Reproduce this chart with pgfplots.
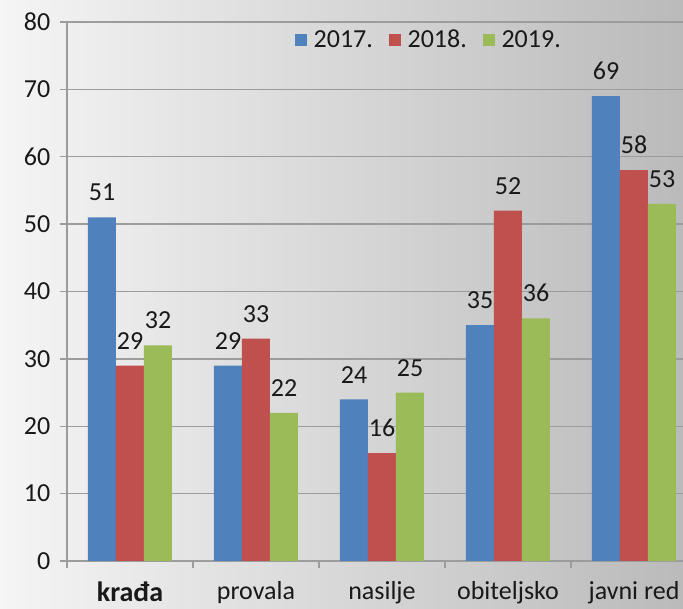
\documentclass[border=0pt]{standalone}
\usepackage{fontspec}
\setmainfont{Carlito}
\usepackage{pgfplots}
\pgfplotsset{compat=1.18}

\definecolor{c17}{HTML}{4F81BD}
\definecolor{c18}{HTML}{C0504D}
\definecolor{c19}{HTML}{9BBB59}
\definecolor{gridc}{HTML}{9C9C9C}

\begin{document}
\begin{tikzpicture}
% picture is 683 x 609 px, 1px = 0.75pt
\useasboundingbox (0,0) rectangle (512.25pt,456.75pt);
\clip (0,0) rectangle (512.25pt,456.75pt);
\shade[left color=black!4, right color=black!27] (0,0) rectangle (512.25pt,456.75pt);
\begin{axis}[
  at={(50.25pt,36pt)}, anchor=south west,
  scale only axis, width=472.5pt, height=404.25pt,
  xmin=-0.5, xmax=4.5, ymin=0, ymax=80,
  ybar=0pt, bar width=21pt,
  axis x line*=bottom, axis y line*=left,
  axis line style={draw=gridc, line width=1pt},
  ytick={0,10,...,80},
  ymajorgrids, grid style={draw=gridc, line width=1pt},
  xtick={-0.5,0.5,...,4.5},
  xticklabels={{\fontsize{21}{23}\selectfont\bfseries krađa},provala,nasilje,obiteljsko,javni red},
  x tick label as interval,
  tick align=outside, major tick length=5pt,
  tick style={draw=gridc, line width=1pt},
  tick label style={font=\fontsize{19.5}{21}\selectfont, text=black!90},
  xticklabel style={yshift=-7pt},
  yticklabel style={xshift=-4pt},
  /pgf/number format/assume math mode=true,
  nodes near coords,
  every node near coord/.append style={font=\fontsize{19.5}{21}\selectfont, text=black!90, inner sep=2pt, yshift=10pt},
  legend style={at={(0.575,0.967)}, anchor=center, draw=none, fill=none,
    legend columns=3, font=\fontsize{19.5}{21}\selectfont, text=black!90,
    /tikz/every even column/.append style={column sep=10pt}},
]
\addplot[fill=c17, draw=none, legend image code/.code={\fill[c17] (0pt,-4.5pt) rectangle (9pt,4.5pt); \path (12pt,0pt);}]
  coordinates {(0,51) (1,29) (2,24) (3,35) (4,69)};
\addplot[fill=c18, draw=none, legend image code/.code={\fill[c18] (0pt,-4.5pt) rectangle (9pt,4.5pt); \path (12pt,0pt);}]
  coordinates {(0,29) (1,33) (2,16) (3,52) (4,58)};
\addplot[fill=c19, draw=none, legend image code/.code={\fill[c19] (0pt,-4.5pt) rectangle (9pt,4.5pt); \path (12pt,0pt);}]
  coordinates {(0,32) (1,22) (2,25) (3,36) (4,53)};
\legend{2017.,2018.,2019.}
\end{axis}
\end{tikzpicture}
\end{document}
